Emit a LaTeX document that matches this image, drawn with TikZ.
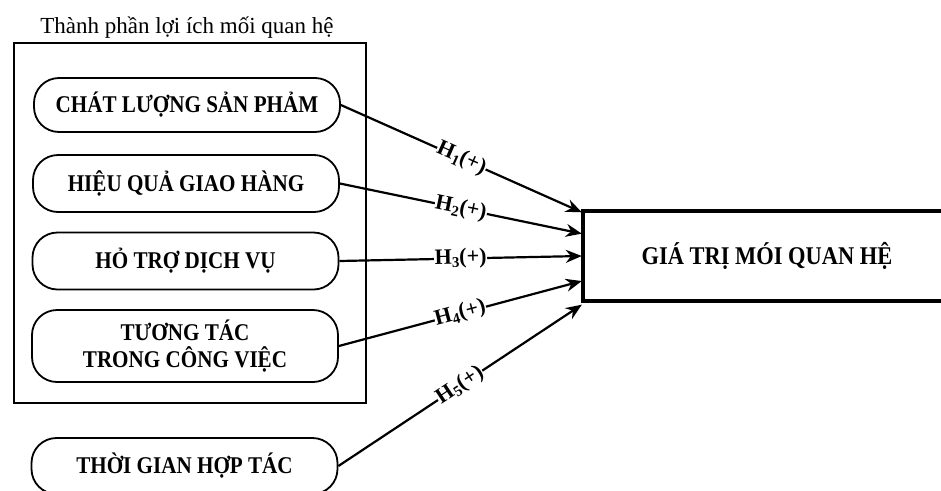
\documentclass[tikz,border=0pt]{standalone}
\usepackage{fontspec}
\setmainfont{Liberation Serif}
\newfontfamily\pillfont[FakeStretch=0.88]{Liberation Serif}
\usetikzlibrary{arrows.meta,calc}
\newcommand{\hsub}[1]{\raisebox{-3.5pt}{\fontsize{15}{15}\selectfont #1}}
\begin{document}
\begin{tikzpicture}[x=1pt,y=-1pt,
  pill/.style={draw,line width=1.8pt,rounded corners=25pt,minimum width=306pt,align=center,
    font=\pillfont\bfseries\fontsize{24}{27}\selectfont,inner sep=0pt},
  arr/.style={line width=2.2pt,-{Stealth[length=16pt,width=13pt]}},
  hlab/.style={fill=white,sloped,inner sep=0.5pt,font=\bfseries\fontsize{22}{24}\selectfont},
  gvbox/.style={minimum width=358pt,minimum height=89pt,inner sep=0pt,
    font=\pillfont\bfseries\fontsize{25.5}{28}\selectfont}]
\useasboundingbox (0,0) rectangle (941,490);
% title and outer frame
\node[font=\fontsize{23}{26}\selectfont,anchor=base] (title) at (187,33) {Thành phần lợi ích mối quan hệ};
\node[draw,line width=2.2pt,minimum width=352pt,minimum height=360pt,inner sep=0pt] (outer) at (190,223) {};
% factor pills
\node[pill,minimum height=54pt] (p1) at (187,105) {CHÁT LƯỢNG SẢN PHẢM};
\node[pill,minimum height=57pt] (p2) at (186,183.5) {HIỆU QUẢ GIAO HÀNG};
\node[pill,minimum height=57pt] (p3) at (185.5,261) {HỎ TRỢ DỊCH VỤ};
\node[pill,minimum height=72pt] (p4) at (185,346) {TƯƠNG TÁC\\TRONG CÔNG VIỆC};
\node[pill,minimum height=56pt] (p5) at (184.5,466) {THỜI GIAN HỢP TÁC};
% target box (open to the right edge)
\node[gvbox] (gv) at (762,256) {\hspace*{10pt}GIÁ TRỊ MÓI QUAN HỆ};
\draw[line width=3.8pt,line join=miter] (gv.north east) -- (gv.north west) -- (gv.south west) -- (gv.south east);
% arrow end points on the box's left side
\coordinate (t1) at ($(gv.north west)+(-1,1)$);
\coordinate (t2) at ($(gv.north west)!0.25!(gv.south west)+(-1,0)$);
\coordinate (t3) at ($(gv.north west)!0.5!(gv.south west)+(-1,0)$);
\coordinate (t4) at ($(gv.north west)!0.78!(gv.south west)+(-1,0)$);
\coordinate (t5) at ($(gv.south west)+(-1,4)$);
% connectors
\draw[arr] (p1.east) -- node[hlab]{H\hsub{1}(+)} (t1);
\draw[arr] (p2.east) -- node[hlab]{H\hsub{2}(+)} (t2);
\draw[arr] (p3.east) -- node[hlab]{H\hsub{3}(+)} (t3);
\draw[arr] (p4.east) -- node[hlab]{H\hsub{4}(+)} (t4);
\draw[arr] (p5.east) -- node[hlab]{H\hsub{5}(+)} (t5);
\end{tikzpicture}
\end{document}
